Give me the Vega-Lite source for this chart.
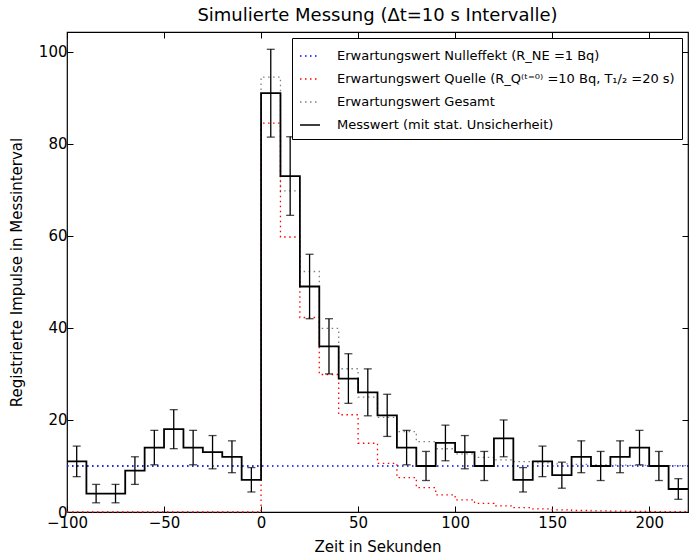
{
  "$schema": "https://vega.github.io/schema/vega-lite/v6.json",
  "width": 621,
  "height": 480,
  "autosize": "none",
  "padding": {"left": 67, "top": 32, "right": 9, "bottom": 48},
  "background": "white",
  "title": {"text": "Simulierte Messung (Δt=10 s Intervalle)"},
  "config": {
    "view": {"stroke": "black", "strokeWidth": 1.2},
    "axis": {
      "domain": false, "grid": false,
      "tickColor": "black", "tickSize": -6, "tickWidth": 1,
      "labelFont": "DejaVu Sans", "labelFontSize": 15, "labelColor": "black", "labelPadding": 6, "labelFlush": false,
      "titleFont": "DejaVu Sans", "titleFontSize": 15, "titleFontWeight": "normal", "titleColor": "black"
    },
    "axisX": {"labelPadding": 9, "titlePadding": 9},
    "axisY": {"titlePadding": 14},
    "legend": {
      "orient": "top-right", "offset": 6,
      "fillColor": "white", "strokeColor": "black", "padding": 7,
      "labelFont": "DejaVu Sans", "labelFontSize": 13, "labelColor": "black", "labelLimit": 500,
      "symbolType": "stroke", "symbolSize": 400, "symbolStrokeWidth": 1.5,
      "rowPadding": 5, "labelOffset": 16
    },
    "title": {"font": "DejaVu Sans", "fontSize": 18, "fontWeight": "normal", "color": "black", "anchor": "middle", "offset": 7}
  },
  "datasets": {
    "stufen": [
      {"t": -100, "ne": 10, "q": 0, "ges": 10, "mess": 11},
      {"t": -90, "ne": 10, "q": 0, "ges": 10, "mess": 4},
      {"t": -80, "ne": 10, "q": 0, "ges": 10, "mess": 4},
      {"t": -70, "ne": 10, "q": 0, "ges": 10, "mess": 9},
      {"t": -60, "ne": 10, "q": 0, "ges": 10, "mess": 14},
      {"t": -50, "ne": 10, "q": 0, "ges": 10, "mess": 18},
      {"t": -40, "ne": 10, "q": 0, "ges": 10, "mess": 14},
      {"t": -30, "ne": 10, "q": 0, "ges": 10, "mess": 13},
      {"t": -20, "ne": 10, "q": 0, "ges": 10, "mess": 12},
      {"t": -10, "ne": 10, "q": 0, "ges": 10, "mess": 7},
      {"t": 0, "ne": 10, "q": 84.51, "ges": 94.51, "mess": 91},
      {"t": 10, "ne": 10, "q": 59.76, "ges": 69.76, "mess": 73},
      {"t": 20, "ne": 10, "q": 42.26, "ges": 52.26, "mess": 49},
      {"t": 30, "ne": 10, "q": 29.88, "ges": 39.88, "mess": 36},
      {"t": 40, "ne": 10, "q": 21.13, "ges": 31.13, "mess": 29},
      {"t": 50, "ne": 10, "q": 14.94, "ges": 24.94, "mess": 26},
      {"t": 60, "ne": 10, "q": 10.56, "ges": 20.56, "mess": 21},
      {"t": 70, "ne": 10, "q": 7.47, "ges": 17.47, "mess": 14},
      {"t": 80, "ne": 10, "q": 5.28, "ges": 15.28, "mess": 10},
      {"t": 90, "ne": 10, "q": 3.74, "ges": 13.74, "mess": 15},
      {"t": 100, "ne": 10, "q": 2.64, "ges": 12.64, "mess": 13},
      {"t": 110, "ne": 10, "q": 1.87, "ges": 11.87, "mess": 10},
      {"t": 120, "ne": 10, "q": 1.32, "ges": 11.32, "mess": 16},
      {"t": 130, "ne": 10, "q": 0.93, "ges": 10.93, "mess": 7},
      {"t": 140, "ne": 10, "q": 0.66, "ges": 10.66, "mess": 11},
      {"t": 150, "ne": 10, "q": 0.47, "ges": 10.47, "mess": 8},
      {"t": 160, "ne": 10, "q": 0.33, "ges": 10.33, "mess": 12},
      {"t": 170, "ne": 10, "q": 0.23, "ges": 10.23, "mess": 10},
      {"t": 180, "ne": 10, "q": 0.17, "ges": 10.17, "mess": 12},
      {"t": 190, "ne": 10, "q": 0.12, "ges": 10.12, "mess": 14},
      {"t": 200, "ne": 10, "q": 0.08, "ges": 10.08, "mess": 10},
      {"t": 210, "ne": 10, "q": 0.06, "ges": 10.06, "mess": 5},
      {"t": 220, "ne": 10, "q": 0.06, "ges": 10.06, "mess": 5}
    ],
    "fehler": [
      {"t": -95, "n": 11, "lo": 7.68, "hi": 14.32},
      {"t": -85, "n": 4, "lo": 2, "hi": 6},
      {"t": -75, "n": 4, "lo": 2, "hi": 6},
      {"t": -65, "n": 9, "lo": 6, "hi": 12},
      {"t": -55, "n": 14, "lo": 10.26, "hi": 17.74},
      {"t": -45, "n": 18, "lo": 13.76, "hi": 22.24},
      {"t": -35, "n": 14, "lo": 10.26, "hi": 17.74},
      {"t": -25, "n": 13, "lo": 9.39, "hi": 16.61},
      {"t": -15, "n": 12, "lo": 8.54, "hi": 15.46},
      {"t": -5, "n": 7, "lo": 4.35, "hi": 9.65},
      {"t": 5, "n": 91, "lo": 81.46, "hi": 100.54},
      {"t": 15, "n": 73, "lo": 64.46, "hi": 81.54},
      {"t": 25, "n": 49, "lo": 42, "hi": 56},
      {"t": 35, "n": 36, "lo": 30, "hi": 42},
      {"t": 45, "n": 29, "lo": 23.61, "hi": 34.39},
      {"t": 55, "n": 26, "lo": 20.9, "hi": 31.1},
      {"t": 65, "n": 21, "lo": 16.42, "hi": 25.58},
      {"t": 75, "n": 14, "lo": 10.26, "hi": 17.74},
      {"t": 85, "n": 10, "lo": 6.84, "hi": 13.16},
      {"t": 95, "n": 15, "lo": 11.13, "hi": 18.87},
      {"t": 105, "n": 13, "lo": 9.39, "hi": 16.61},
      {"t": 115, "n": 10, "lo": 6.84, "hi": 13.16},
      {"t": 125, "n": 16, "lo": 12, "hi": 20},
      {"t": 135, "n": 7, "lo": 4.35, "hi": 9.65},
      {"t": 145, "n": 11, "lo": 7.68, "hi": 14.32},
      {"t": 155, "n": 8, "lo": 5.17, "hi": 10.83},
      {"t": 165, "n": 12, "lo": 8.54, "hi": 15.46},
      {"t": 175, "n": 10, "lo": 6.84, "hi": 13.16},
      {"t": 185, "n": 12, "lo": 8.54, "hi": 15.46},
      {"t": 195, "n": 14, "lo": 10.26, "hi": 17.74},
      {"t": 205, "n": 10, "lo": 6.84, "hi": 13.16},
      {"t": 215, "n": 5, "lo": 2.76, "hi": 7.24}
    ]
  },
  "layer": [
    {
      "data": {"name": "stufen"},
      "transform": [{"fold": ["ges", "q", "ne"], "as": ["serie", "wert"]}],
      "mark": {"type": "line", "interpolate": "step-after", "strokeWidth": 1.3},
      "encoding": {
        "x": {
          "field": "t", "type": "quantitative",
          "scale": {"domain": [-100, 220], "nice": false, "zero": false},
          "axis": {"orient": "bottom", "values": [-100, -50, 0, 50, 100, 150, 200], "title": "Zeit in Sekunden"}
        },
        "y": {
          "field": "wert", "type": "quantitative",
          "scale": {"domain": [0, 104.3], "nice": false},
          "axis": {"orient": "left", "values": [0, 20, 40, 60, 80, 100], "title": "Registrierte Impulse in Messinterval"}
        },
        "color": {
          "field": "serie", "type": "nominal",
          "scale": {"domain": ["ne", "q", "ges", "mess"], "range": ["#0000ff", "#ff0000", "#808080", "#000000"]},
          "legend": {"title": null, "labelExpr": "{'ne': 'Erwartungswert Nulleffekt (R_NE =1 Bq)', 'q': 'Erwartungswert Quelle (R_Q⁽ᵗ⁼⁰⁾ =10 Bq, T₁/₂ =20 s)', 'ges': 'Erwartungswert Gesamt', 'mess': 'Messwert (mit stat. Unsicherheit)'}[datum.label]"}
        },
        "strokeDash": {
          "field": "serie", "type": "nominal",
          "scale": {"domain": ["ne", "q", "ges", "mess"], "range": [[1.5, 3.5], [1.5, 3.5], [1.5, 3.5], [1, 0]]},
          "legend": {"title": null, "labelExpr": "{'ne': 'Erwartungswert Nulleffekt (R_NE =1 Bq)', 'q': 'Erwartungswert Quelle (R_Q⁽ᵗ⁼⁰⁾ =10 Bq, T₁/₂ =20 s)', 'ges': 'Erwartungswert Gesamt', 'mess': 'Messwert (mit stat. Unsicherheit)'}[datum.label]"}
        }
      }
    },
    {
      "data": {"name": "stufen"},
      "transform": [{"fold": ["mess"], "as": ["serie", "wert"]}],
      "mark": {"type": "line", "interpolate": "step-after", "strokeWidth": 1.8},
      "encoding": {
        "x": {"field": "t", "type": "quantitative", "axis": null},
        "y": {"field": "wert", "type": "quantitative", "axis": null},
        "color": {"field": "serie", "type": "nominal"},
        "strokeDash": {"field": "serie", "type": "nominal"}
      }
    },
    {
      "data": {"name": "fehler"},
      "mark": {"type": "rule", "color": "black", "strokeWidth": 1.3},
      "encoding": {
        "x": {"field": "t", "type": "quantitative", "axis": null},
        "y": {"field": "lo", "type": "quantitative", "axis": null},
        "y2": {"field": "hi"}
      }
    },
    {
      "data": {"name": "fehler"},
      "mark": {"type": "tick", "orient": "horizontal", "color": "black", "size": 8, "thickness": 1.3},
      "encoding": {
        "x": {"field": "t", "type": "quantitative", "axis": null},
        "y": {"field": "lo", "type": "quantitative", "axis": null}
      }
    },
    {
      "data": {"name": "fehler"},
      "mark": {"type": "tick", "orient": "horizontal", "color": "black", "size": 8, "thickness": 1.3},
      "encoding": {
        "x": {
          "field": "t", "type": "quantitative",
          "axis": {"orient": "top", "values": [-100, -50, 0, 50, 100, 150, 200], "labels": false, "title": null}
        },
        "y": {
          "field": "hi", "type": "quantitative",
          "axis": {"orient": "right", "values": [0, 20, 40, 60, 80, 100], "labels": false, "title": null}
        }
      }
    }
  ],
  "resolve": {"axis": {"x": "independent", "y": "independent"}}
}
